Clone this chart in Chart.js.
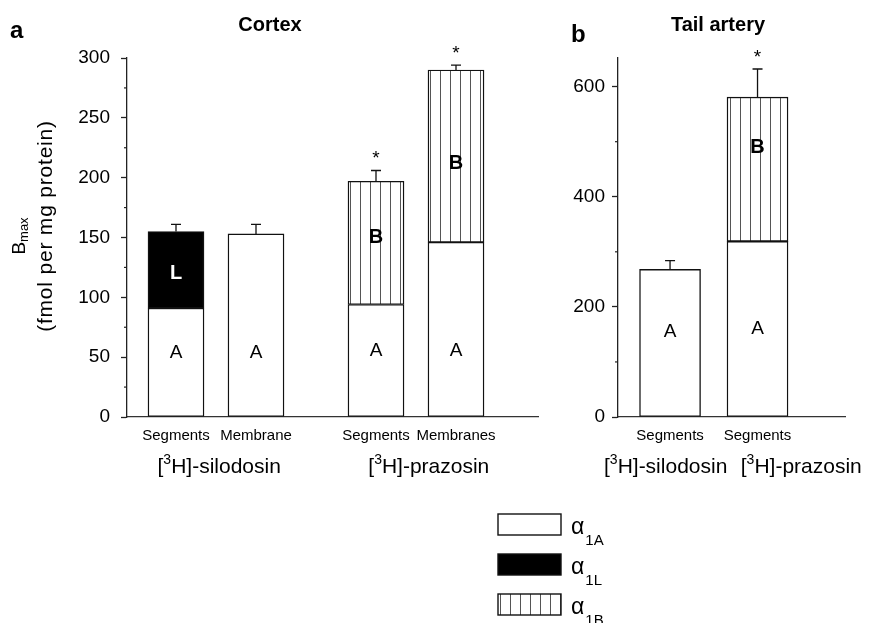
<!DOCTYPE html>
<html>
<head>
<meta charset="utf-8">
<script src="https://cdn.jsdelivr.net/npm/chart.js@4.4.1/dist/chart.umd.min.js"></script>
<style>
  html, body { margin: 0; padding: 0; background: #fff; }
  #wrap { position: relative; width: 871px; height: 623px; }
  canvas { position: absolute; left: 0; top: 0; }
</style>
</head>
<body>
<div id="wrap">
  <canvas id="cortex" width="871" height="623"></canvas>
  <canvas id="tail" width="871" height="623"></canvas>
</div>
<script>
// panel a - cortex
const cortexLabels = ['Segments', 'Membrane', 'Segments', 'Membranes'];
const cortexPos = [1, 2, 3.5, 4.5];
const cortexA = [91, 153, 94, 146];
const cortexL = [64, null, null, null];
const cortexB = [null, null, 103, 144];
const cortexErr = [6, 8, 9, 4];
const cortexSig = [false, false, true, true];

// panel b - tail artery
const tailLabels = ['Segments', 'Segments'];
const tailPos = [1, 2];
const tailA = [268, 319];
const tailB = [null, 262];
const tailErr = [16, 51];
const tailSig = [false, true];

const ligands = ['silodosin', 'prazosin'];
const legendNames = ['1A', '1L', '1B'];

const FONT = '"Liberation Sans", Arial, Helvetica, sans-serif';
Chart.defaults.font.family = FONT;
Chart.defaults.color = '#000';

// vertical hatch for alpha1B
function makeHatch() {
  const c = document.createElement('canvas');
  c.width = 10; c.height = 10;
  const g = c.getContext('2d');
  g.fillStyle = '#fff';
  g.fillRect(0, 0, 10, 10);
  g.fillStyle = '#555';
  g.fillRect(0, 0, 1, 10);
  return g.createPattern(c, 'repeat');
}
const HATCH = makeHatch();
const FILLS = ['#fff', '#000', HATCH];

function pts(pos, vals) {
  return pos.map((x, i) => ({x: x, y: vals[i]}));
}

function ds(pos, vals, fill, w) {
  return {
    data: pts(pos, vals),
    backgroundColor: fill,
    borderColor: '#111',
    borderWidth: 1.4,
    borderSkipped: false,
    barThickness: w
  };
}

function ligandText(ctx, name, cx, y) {
  const size = 21, sup = 14;
  ctx.font = size + 'px ' + FONT;
  const w1 = ctx.measureText('[').width;
  const w3 = ctx.measureText('H]-' + name).width;
  ctx.font = sup + 'px ' + FONT;
  const w2 = ctx.measureText('3').width;
  let x = cx - (w1 + w2 + w3) / 2;
  ctx.textAlign = 'left';
  ctx.textBaseline = 'alphabetic';
  ctx.font = size + 'px ' + FONT;
  ctx.fillText('[', x, y); x += w1;
  ctx.font = sup + 'px ' + FONT;
  ctx.fillText('3', x, y - 9); x += w2;
  ctx.font = size + 'px ' + FONT;
  ctx.fillText('H]-' + name, x, y);
}

// error bars, stars, letters in the bars, minor ticks and the rest of the text
function extras(o) {
  return {
    id: 'extras',
    afterDatasetsDraw(chart) {
      const ctx = chart.ctx, xs = chart.scales.x, ys = chart.scales.y;
      ctx.save();
      ctx.strokeStyle = '#111';
      ctx.fillStyle = '#000';
      ctx.lineWidth = 1.3;
      o.pos.forEach((p, i) => {
        let total = 0;
        chart.data.datasets.forEach(d => { if (d.data[i].y != null) total += d.data[i].y; });
        const x = xs.getPixelForValue(p);
        const y0 = ys.getPixelForValue(total);
        const y1 = ys.getPixelForValue(total + o.err[i]);
        ctx.beginPath();
        ctx.moveTo(x, y0); ctx.lineTo(x, y1);
        ctx.moveTo(x - 5, y1); ctx.lineTo(x + 5, y1);
        ctx.stroke();
        if (o.sig[i]) {
          ctx.font = '19px ' + FONT;
          ctx.textAlign = 'center';
          ctx.textBaseline = 'alphabetic';
          ctx.fillText('*', x, y1 - 6);
        }
      });
      // segment letters
      o.marks.forEach(m => {
        ctx.font = (m.bold ? 'bold 20px ' : '19px ') + FONT;
        ctx.fillStyle = m.color || '#000';
        ctx.textAlign = 'center';
        ctx.textBaseline = 'middle';
        ctx.fillText(m.text, xs.getPixelForValue(o.pos[m.i]), ys.getPixelForValue(m.at));
      });
      ctx.restore();
    },
    afterDraw(chart) {
      const ctx = chart.ctx, xs = chart.scales.x, ys = chart.scales.y;
      const area = chart.chartArea;
      ctx.save();
      // minor ticks
      ctx.strokeStyle = '#222';
      ctx.lineWidth = 1.2;
      ys.ticks.forEach(t => {
        if (t.value % o.major !== 0 && t.value % o.minor === 0) {
          const y = ys.getPixelForValue(t.value);
          ctx.beginPath();
          ctx.moveTo(area.left - 3, y); ctx.lineTo(area.left, y);
          ctx.stroke();
        }
      });
      ctx.fillStyle = '#000';
      // panel letter and title
      ctx.textBaseline = 'alphabetic';
      ctx.textAlign = 'left';
      ctx.font = 'bold 24px ' + FONT;
      ctx.fillText(o.letter, o.letterX, o.letterY);
      ctx.textAlign = 'center';
      ctx.font = 'bold 20px ' + FONT;
      ctx.fillText(o.title, o.titleX, 31);
      // ligand group labels
      o.groups.forEach((g, k) => ligandText(ctx, ligands[k], xs.getPixelForValue(g), 473));
      if (o.yTitle) {
        ctx.translate(25, 236);
        ctx.rotate(-Math.PI / 2);
        ctx.textAlign = 'left';
        ctx.font = '19px ' + FONT;
        const wb = ctx.measureText('B').width;
        ctx.font = '13px ' + FONT;
        const wm = ctx.measureText('max').width;
        let x = -(wb + wm) / 2;
        ctx.font = '19px ' + FONT;
        ctx.fillText('B', x, 0);
        ctx.font = '13px ' + FONT;
        ctx.fillText('max', x + wb, 3);
        ctx.font = '21px ' + FONT;
        ctx.letterSpacing = '0.8px';
        ctx.textAlign = 'center';
        ctx.fillText('(fmol per mg protein)', 10, 27);
        ctx.letterSpacing = '0px';
        ctx.setTransform(1, 0, 0, 1, 0, 0);
      }
      if (o.legend) {
        legendNames.forEach((n, k) => {
          const top = 514 + k * 40;
          ctx.fillStyle = FILLS[k];
          ctx.fillRect(498, top, 63, 21);
          ctx.strokeStyle = '#111';
          ctx.lineWidth = 1.4;
          ctx.strokeRect(498, top, 63, 21);
          ctx.fillStyle = '#000';
          ctx.textAlign = 'left';
          ctx.font = '23px ' + FONT;
          ctx.fillText('\u03b1', 571, top + 20);
          const wa = ctx.measureText('\u03b1').width;
          ctx.font = '15px ' + FONT;
          ctx.fillText(n, 571 + wa + 1, top + 31);
        });
      }
      ctx.restore();
    }
  };
}

function makeChart(id, o) {
  return new Chart(document.getElementById(id), {
    type: 'bar',
    data: {datasets: o.datasets},
    options: {
      responsive: false,
      animation: false,
      devicePixelRatio: 1,
      layout: {padding: o.padding},
      plugins: {legend: {display: false}, tooltip: {enabled: false}},
      scales: {
        x: {
          type: 'linear',
          stacked: true,
          offset: false,
          min: o.xMin,
          max: o.xMax,
          grid: {display: false, drawTicks: false},
          border: {display: true, color: '#333', width: 1.3},
          afterBuildTicks: s => { s.ticks = o.pos.map(v => ({value: v})); },
          afterFit: s => { s.height = 206; },
          ticks: {
            autoSkip: false, maxRotation: 0, padding: 10,
            font: {size: 15},
            callback: (v, i) => o.labels[i]
          }
        },
        y: {
          stacked: true,
          min: 0,
          max: o.yMax,
          grid: {
            drawOnChartArea: false, tickLength: 6, tickWidth: 1.3,
            color: c => (c.tick && c.tick.value % o.major === 0) ? '#222' : 'rgba(0,0,0,0)'
          },
          border: {display: true, color: '#222', width: 1.3},
          afterFit: s => { s.width = o.yWidth; },
          ticks: {
            stepSize: o.minor, includeBounds: false, padding: o.yPad,
            font: {size: 19},
            callback: v => (v % o.major === 0 ? v : '')
          }
        }
      }
    },
    plugins: [extras(o)]
  });
}

makeChart('cortex', {
  datasets: [
    ds(cortexPos, cortexA, FILLS[0], 56),
    ds(cortexPos, cortexL, FILLS[1], 56),
    ds(cortexPos, cortexB, FILLS[2], 56)
  ],
  pos: cortexPos, labels: cortexLabels, err: cortexErr, sig: cortexSig,
  padding: {left: 0, right: 333, top: 58, bottom: 0},
  xMin: 0.3875, xMax: 5.525, yMax: 300, major: 50, minor: 25,
  yWidth: 127, yPad: 11,
  letter: 'a', letterX: 10, letterY: 38, title: 'Cortex', titleX: 270,
  groups: [1.54, 4.16], yTitle: true, legend: false,
  marks: [
    {i: 0, text: 'A', at: 54}, {i: 1, text: 'A', at: 54},
    {i: 2, text: 'A', at: 55}, {i: 3, text: 'A', at: 55},
    {i: 0, text: 'L', at: 120, bold: true, color: '#fff'},
    {i: 2, text: 'B', at: 150, bold: true}, {i: 3, text: 'B', at: 212, bold: true}
  ]
});

makeChart('tail', {
  datasets: [
    ds(tailPos, tailA, FILLS[0], 61),
    ds(tailPos, tailB, FILLS[2], 61)
  ],
  pos: tailPos, labels: tailLabels, err: tailErr, sig: tailSig,
  padding: {left: 558, right: 26, top: 58, bottom: 0},
  xMin: 0.405, xMax: 3.0, yMax: 652, major: 200, minor: 100,
  yWidth: 60, yPad: 7,
  letter: 'b', letterX: 571, letterY: 42, title: 'Tail artery', titleX: 718,
  groups: [0.95, 2.5], yTitle: false, legend: true,
  marks: [
    {i: 0, text: 'A', at: 155}, {i: 1, text: 'A', at: 160},
    {i: 1, text: 'B', at: 489, bold: true}
  ]
});
</script>
</body>
</html>
